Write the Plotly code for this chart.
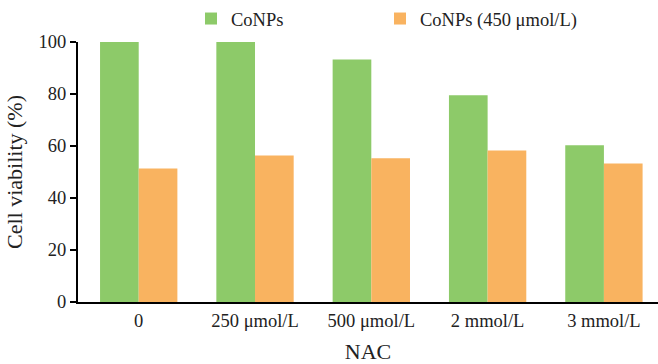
import plotly.graph_objects as go

categories = ["0", "250 μmol/L", "500 μmol/L", "2 mmol/L", "3 mmol/L"]
conps = [100, 100, 93.3, 79.5, 60.3]
conps_450 = [51.3, 56.3, 55.3, 58.3, 53.3]
y_ticks = [0, 20, 40, 60, 80, 100]

FONT = "Liberation Serif, Times New Roman, serif"

fig = go.Figure()
fig.add_trace(go.Bar(x=categories, y=conps, name="CoNPs", marker_color="#8DCA69",
                     marker_line_width=0, legend="legend", showlegend=True))
fig.add_trace(go.Bar(x=categories, y=conps_450, name="CoNPs (450 μmol/L)",
                     marker_color="#F9B360", marker_line_width=0, legend="legend2",
                     showlegend=True))

legend_common = dict(orientation="h", xref="container", yref="container",
                     y=1-19/364, xanchor="left", yanchor="middle",
                     font=dict(family=FONT, size=18.5, color="#222"),
                     bgcolor="rgba(0,0,0,0)", visible=True)

fig.update_layout(
    width=658, height=364, showlegend=True,
    margin=dict(l=78, r=0, t=42, b=62, autoexpand=False),
    paper_bgcolor="white", plot_bgcolor="white",
    barmode="group", bargap=0.335, bargroupgap=0,
    font=dict(family=FONT, size=18.5, color="#222"),
    legend=dict(x=191/658, **legend_common),
    legend2=dict(x=380/658, **legend_common),
    xaxis=dict(range=[-0.522, 4.465], showline=True, linecolor="black", linewidth=2,
               ticks="", showgrid=False, zeroline=False, automargin=False,
               title=dict(text="NAC", standoff=16),
               ticklabelstandoff=1),
    yaxis=dict(range=[0, 100], tickvals=y_ticks, showline=True, linecolor="black",
               linewidth=2, ticks="outside", ticklen=6, tickwidth=2, tickcolor="black",
               showgrid=False, zeroline=False, automargin=False,
               title=dict(text="Cell viability (%)", standoff=10)),
)

fig.write_html("out.html", config={"displayModeBar": False},
               post_script="document.body.style.margin='0px';")
